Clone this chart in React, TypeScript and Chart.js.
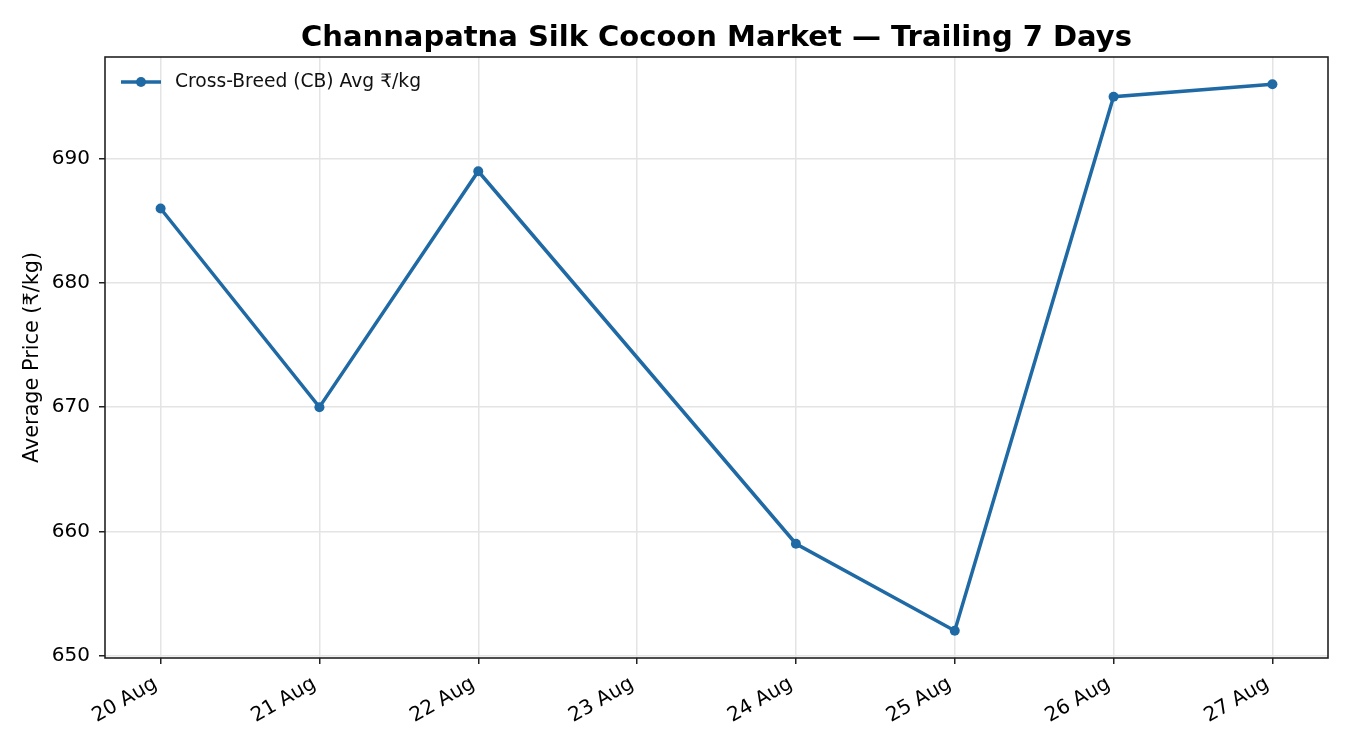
import { useEffect, useRef } from 'react';
import { Chart, registerables } from 'chart.js';

Chart.register(...registerables);

const days = ['20 Aug', '21 Aug', '22 Aug', '23 Aug', '24 Aug', '25 Aug', '26 Aug', '27 Aug'];
const cbPrices: (number | null)[] = [686, 670, 689, null, 659, 652, 695, 696];
const yTicks = [650, 660, 670, 680, 690];

const title = 'Channapatna Silk Cocoon Market — Trailing 7 Days';
const seriesLabel = 'Cross-Breed (CB) Avg ₹/kg';
const lineColor = '#1f6aa5';
const font = '"DejaVu Sans", sans-serif';
const tickFont = 20;

// title, frame, rotated date labels and in-plot legend, placed the way matplotlib does
const decorations = {
  id: 'decorations',
  afterDraw(chart: any) {
    const { ctx, chartArea } = chart;
    const { left, right, top, bottom } = chartArea;
    ctx.save();

    ctx.strokeStyle = '#222';
    ctx.lineWidth = 1.6;
    ctx.strokeRect(left, top, right - left, bottom - top);

    ctx.fillStyle = '#000';
    ctx.font = `bold 29px ${font}`;
    ctx.textAlign = 'center';
    ctx.textBaseline = 'alphabetic';
    ctx.fillText(title, (left + right) / 2, 45.5);

    // x labels: rotated 30°, right end of the box under the tick
    const xs = chart.scales.x;
    const h = tickFont * 1.16;
    ctx.font = `${tickFont}px ${font}`;
    ctx.textAlign = 'right';
    ctx.textBaseline = 'bottom';
    days.forEach((d, i) => {
      const px = xs.getPixelForValue(i);
      const py = bottom + 6 + 7 + h * Math.cos(Math.PI / 6);
      ctx.save();
      ctx.translate(px, py);
      ctx.rotate(-Math.PI / 6);
      ctx.fillText(d, 0, 0);
      ctx.restore();
    });

    const ly = top + 25;
    ctx.strokeStyle = lineColor;
    ctx.lineWidth = 3.5;
    ctx.beginPath();
    ctx.moveTo(left + 16, ly);
    ctx.lineTo(left + 56, ly);
    ctx.stroke();
    ctx.fillStyle = lineColor;
    ctx.beginPath();
    ctx.arc(left + 36, ly, 5, 0, Math.PI * 2);
    ctx.fill();

    ctx.fillStyle = '#111';
    ctx.font = `18.7px ${font}`;
    ctx.textAlign = 'left';
    ctx.textBaseline = 'middle';
    ctx.fillText(seriesLabel, left + 70, ly);
    ctx.restore();
  },
};

export default function App() {
  const canvasRef = useRef<HTMLCanvasElement>(null);

  useEffect(() => {
    if (!canvasRef.current) return;
    const points = days
      .map((_, i) => ({ x: i, y: cbPrices[i] }))
      .filter((p) => p.y !== null);

    const chart = new Chart(canvasRef.current, {
      type: 'line',
      data: {
        datasets: [
          {
            label: seriesLabel,
            data: points as any,
            borderColor: lineColor,
            backgroundColor: lineColor,
            borderWidth: 3.5,
            pointRadius: 5,
            pointBorderWidth: 0,
            pointBackgroundColor: lineColor,
            tension: 0,
          },
        ],
      },
      options: {
        animation: false,
        responsive: true,
        maintainAspectRatio: false,
        devicePixelRatio: 1,
        layout: { padding: { top: 57, right: 22, left: 0, bottom: 0 } },
        plugins: {
          legend: { display: false },
          title: { display: false },
          tooltip: { enabled: false },
        },
        scales: {
          x: {
            type: 'linear',
            min: -0.35,
            max: 7.35,
            afterBuildTicks: (scale: any) => {
              scale.ticks = days.map((_, i) => ({ value: i }));
            },
            afterFit: (scale: any) => {
              scale.height = 92;
            },
            ticks: { display: false },
            grid: {
              color: '#e4e4e4',
              lineWidth: 1.5,
              tickColor: '#222',
              tickLength: 6,
              tickWidth: 1.5,
            },
            border: { display: false },
          },
          y: {
            min: 649.8,
            max: 698.2,
            afterBuildTicks: (scale: any) => {
              scale.ticks = yTicks.map((v) => ({ value: v }));
            },
            afterFit: (scale: any) => {
              scale.width = 105;
            },
            ticks: {
              color: '#000',
              font: { family: font, size: tickFont },
              padding: 9,
            },
            grid: {
              color: '#e4e4e4',
              lineWidth: 1.5,
              tickColor: '#222',
              tickLength: 6,
              tickWidth: 1.5,
            },
            border: { display: false },
            title: {
              display: true,
              text: 'Average Price (₹/kg)',
              color: '#000',
              font: { family: font, size: 20.8 },
              padding: { top: 20, bottom: 0 },
            },
          },
        },
      },
      plugins: [decorations],
    });

    return () => {
      chart.destroy();
    };
  }, []);

  return (
    <div style={{ position: 'absolute', left: 0, top: 0, width: 1350, height: 750, background: '#fff' }}>
      <canvas ref={canvasRef} />
    </div>
  );
}
